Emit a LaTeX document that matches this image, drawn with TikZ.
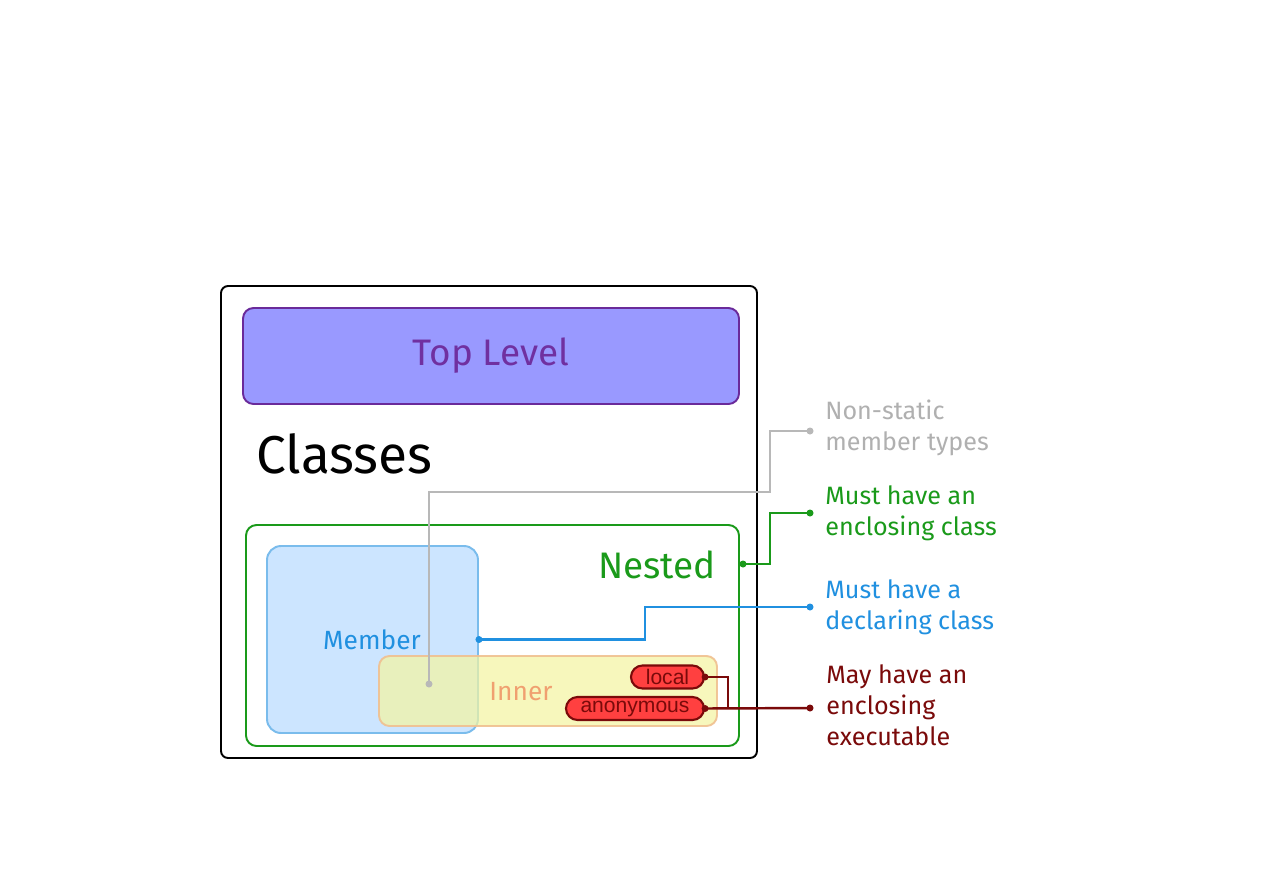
\documentclass[tikz,border=0pt]{standalone}
\usepackage{fontspec}
\setmainfont{Fira Sans}
\newfontfamily\arialfont{Liberation Sans}
\usetikzlibrary{shapes.misc}
\definecolor{tlfill}{HTML}{9999FF}
\definecolor{tlline}{HTML}{6A2A9A}
\definecolor{tltext}{HTML}{7030A0}
\definecolor{ngreen}{HTML}{1A9A1A}
\definecolor{mblue}{HTML}{2090E0}
\definecolor{mfill}{HTML}{CCE5FF}
\definecolor{mline}{HTML}{7ABCEC}
\definecolor{ifill}{HTML}{F5F5A0}
\definecolor{iline}{HTML}{F0C090}
\definecolor{itext}{HTML}{F0A070}
\definecolor{dred}{HTML}{7A0A0A}
\definecolor{efill}{HTML}{FF4040}
\definecolor{gline}{HTML}{B8B8B8}
\definecolor{gtext}{HTML}{B0B0B0}
\tikzset{
  boxbase/.style={rectangle,line width=1.1pt,inner sep=0pt},
  oval/.style={rounded rectangle,draw=dred,fill=efill,line width=1.2pt,inner sep=0pt,minimum height=23*0.02cm,font=\arialfont\fontsize{12}{14}\selectfont,text=dred},
  lbl/.style={anchor=north west,align=left,font=\fontsize{14.3}{17.6}\selectfont,inner sep=0pt},
  conn/.style={line width=1.4pt},
  dot/.style={circle,fill,inner sep=0pt,minimum size=7*0.02cm}
}
\begin{document}
\begin{tikzpicture}[x=0.02cm,y=-0.02cm]
\useasboundingbox (0,0) rectangle (1263,893);
\fill[white] (0,0) rectangle (1263,893);
% outer
\node[boxbase,draw=black,rounded corners=4pt,minimum width=536*0.02cm,minimum height=472*0.02cm] (outer) at (489,522) {};
\node[boxbase,draw=tlline,fill=tlfill,rounded corners=6pt,minimum width=496*0.02cm,minimum height=96*0.02cm,text=tltext,font=\fontsize{21}{25}\selectfont] (top) at (491,356) {Top Level};
\node[anchor=west,inner sep=0pt,font=\fontsize{30.3}{36}\selectfont] (classes) at (256,454) {Classes};
% nested
\node[boxbase,draw=ngreen,fill=white,rounded corners=6pt,minimum width=493*0.02cm,minimum height=221*0.02cm] (nested) at (492.5,635.5) {};
\node[anchor=east,inner sep=0pt,text=ngreen,font=\fontsize{21}{25}\selectfont] (nestedt) at (716,565) {Nested};
% member
\node[boxbase,draw=mline,fill=mfill,rounded corners=8pt,minimum width=211*0.02cm,minimum height=187*0.02cm] (member) at (372.5,639.5) {};
\node[inner sep=0pt,text=mblue,font=\fontsize{15}{18}\selectfont] (membert) at (372,640) {Member};
% inner
\node[boxbase,draw=iline,fill=ifill,fill opacity=0.7,draw opacity=0.9,rounded corners=6pt,minimum width=338*0.02cm,minimum height=70*0.02cm] (inner) at (548,691) {};
\node[inner sep=0pt,text=itext,font=\fontsize{15}{18}\selectfont] (innert) at (521,692) {Inner};
% ovals
\node[oval,minimum width=73*0.02cm] (local) at (667.5,677) {local};
\node[oval,minimum width=138*0.02cm] (anon) at (635,708.5) {anonymous};
% coordinates
\coordinate (gdot) at (429,684);
\coordinate (gend) at (810,431);
\coordinate (ndot) at (743,564);
\coordinate (nend) at (810,513);
\coordinate (bend) at (810,607);
\coordinate (rend) at (810,708);
% connectors
\draw[conn,gline] (gdot) -- (429,492) -- (770,492) -- (770,431) -- (gend);
\node[dot,fill=gline] at (gdot) {};
\node[dot,fill=gline] at (gend) {};
\draw[conn,ngreen] (ndot) -- (770,564) -- (770,513) -- (nend);
\node[dot,fill=ngreen] at (ndot) {};
\node[dot,fill=ngreen] at (nend) {};
\draw[conn,mblue] (member.east) -- (645,639.5) -- (645,607) -- (bend);
\node[dot,fill=mblue] at (member.east) {};
\node[dot,fill=mblue] at (bend) {};
\draw[conn,dred] (local.east) -- (728,677) |- (rend);
\draw[conn,dred] (anon.east) -- (rend);
\node[dot,fill=dred] at (local.east) {};
\node[dot,fill=dred] at (anon.east) {};
\node[dot,fill=dred] at (rend) {};
% labels
\node[lbl,text=gtext] (lg) at (825,400) {Non-static\\member types};
\node[lbl,text=ngreen] (ln) at (825,485) {Must have an\\enclosing class};
\node[lbl,text=mblue] (lb) at (825,579) {Must have a\\declaring class};
\node[lbl,text=dred] (lr) at (826,664) {May have an\\enclosing\\executable};
\end{tikzpicture}
\end{document}
